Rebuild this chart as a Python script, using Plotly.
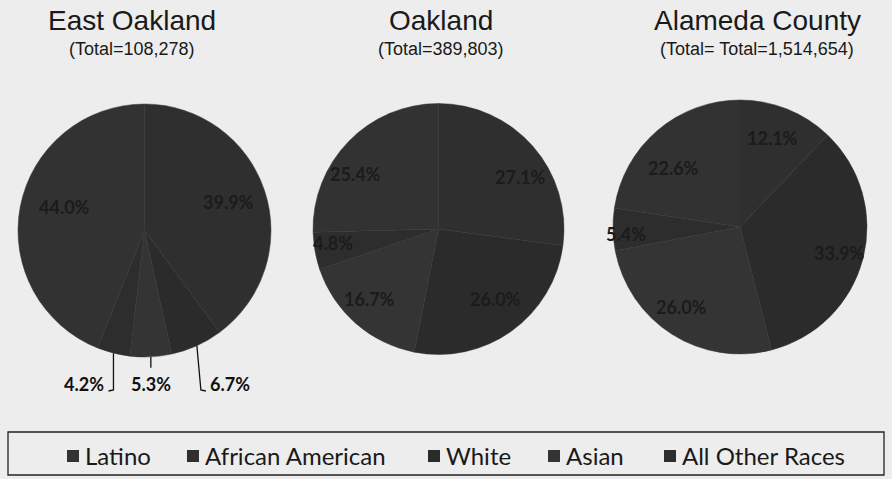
import math
import plotly.graph_objects as go

# Population share by race/ethnicity (percent)
races = ["Latino", "African American", "White", "Asian", "All Other Races"]
regions = ["East Oakland", "Oakland", "Alameda County"]
subtitles = ["(Total=108,278)", "(Total=389,803)", "(Total= Total=1,514,654)"]
east_oakland = [44.0, 39.9, 6.7, 5.3, 4.2]
oakland = [25.4, 27.1, 26.0, 16.7, 4.8]
alameda = [22.6, 12.1, 33.9, 26.0, 5.4]

W, H = 892, 479
slice_colors = ["#323232", "#2f2f2f", "#2b2b2b", "#343434", "#2d2d2d"]

# pie centre (px) and radius (px)
pie_geom = [(144.5, 230.5, 126.5), (438.5, 229.0, 125.5), (740.0, 227.0, 127.0)]
title_x = [132, 441, 757]
# inside label placement: (angle nudge in degrees, radius fraction); None = outside label
label_place = [
    [(5.5, 0.66), (-0.8, 0.70), None, None, None],
    [(-10.6, 0.79), (9.0, 0.77), (-3.8, 0.72), (3.4, 0.78), (2.4, 0.85)],
    [(-7.5, 0.70), (-2.0, 0.745), (0.0, 0.81), (3.6, 0.78), (-2.4, 0.90)],
]
# legend entry positions (left edge of swatch, px)
legend_x = [67, 187, 428, 548, 664]
legend_y = 456

def px(x):
    return x / W

def py(y):
    return 1 - y / H

fig = go.Figure()
annotations = []
shapes = []
label_font = dict(family="Lato", size=18, color="#1b1b1b", weight="bold")
title_family = "Liberation Sans Narrow, Arial Narrow, Liberation Sans, Arial"

for k, vals in enumerate([east_oakland, oakland, alameda]):
    cx, cy, r = pie_geom[k]
    rot = -vals[0] / sum(vals) * 360.0  # first slice ends at 12 o'clock
    fig.add_trace(go.Pie(
        labels=races, values=vals, sort=False, direction="clockwise",
        rotation=rot, textinfo="none", hoverinfo="label+percent",
        marker=dict(colors=slice_colors, line=dict(color="#353535", width=0.5)),
        domain=dict(x=[px(cx - r), px(cx + r)], y=[py(cy + r), py(cy - r)]),
        showlegend=False, name=regions[k],
    ))

    total = sum(vals)
    start = rot
    for i, v in enumerate(vals):
        span = v / total * 360.0
        mid_deg = start + span / 2
        start += span
        txt = f"{v:.1f}%"
        place = label_place[k][i]
        if place is not None:
            nudge, f = place
            a = math.radians(mid_deg + nudge)
            lx = cx + f * r * math.sin(a)
            ly = cy - f * r * math.cos(a)
            annotations.append(dict(
                x=px(lx), y=py(ly), xref="paper", yref="paper", text=txt,
                xanchor="center", yanchor="middle", showarrow=False, font=label_font))
        else:
            # outside label with a leader line down from the rim
            mid = math.radians(mid_deg)
            rx = cx + r * math.sin(mid)
            ry = cy - r * math.cos(mid)
            ylab = cy + r + 27
            ybot = ylab + 6
            if rx < cx - 10:
                path = f"M {px(rx)},{py(ry)} L {px(rx)},{py(ybot)} L {px(rx - 5)},{py(ybot + 1)}"
                ax_, anchor = rx - 7, "right"
            elif rx > cx + 10:
                path = f"M {px(rx)},{py(ry)} L {px(rx + 4)},{py(ybot)} L {px(rx + 9)},{py(ybot + 1)}"
                ax_, anchor = rx + 11, "left"
            else:
                path = f"M {px(rx)},{py(ry)} L {px(rx)},{py(ry + 11)}"
                ax_, anchor = rx, "center"
            shapes.append(dict(type="path", path=path, xref="paper", yref="paper",
                               line=dict(color="#111111", width=1.3)))
            annotations.append(dict(
                x=px(ax_), y=py(ylab), xref="paper", yref="paper", text=txt,
                xanchor=anchor, yanchor="middle", showarrow=False,
                font=dict(family="Lato", size=18, color="#111111", weight="bold")))

    annotations.append(dict(
        x=px(title_x[k]), y=py(21), xref="paper", yref="paper", text=regions[k],
        xanchor="center", yanchor="middle", showarrow=False,
        font=dict(family=title_family, size=28, color="#1a1a1a")))
    annotations.append(dict(
        x=px(title_x[k]), y=py(49), xref="paper", yref="paper", text=subtitles[k],
        xanchor="center", yanchor="middle", showarrow=False,
        font=dict(family=title_family, size=18, color="#1a1a1a")))

# legend: swatch + race name, inside a full-width frame
for name, col, lx0 in zip(races, slice_colors, legend_x):
    shapes.append(dict(type="rect", xref="paper", yref="paper",
                       x0=px(lx0), x1=px(lx0 + 12), y0=py(legend_y + 6), y1=py(legend_y - 6),
                       fillcolor=col, line=dict(width=0)))
    annotations.append(dict(
        x=px(lx0 + 16), y=py(legend_y - 1), xref="paper", yref="paper", text=name,
        xanchor="left", yanchor="middle", showarrow=False,
        font=dict(family="Lato", size=24, color="#1a1a1a")))

shapes.append(dict(type="rect", xref="paper", yref="paper",
                   x0=px(8), x1=px(884), y0=py(475), y1=py(432),
                   line=dict(color="#222222", width=1.3)))

fig.update_layout(
    width=W, height=H,
    margin=dict(l=0, r=0, t=0, b=0),
    paper_bgcolor="#ededed", plot_bgcolor="#ededed",
    annotations=annotations, shapes=shapes,
    showlegend=False,
)

fig.write_html("out.html")
